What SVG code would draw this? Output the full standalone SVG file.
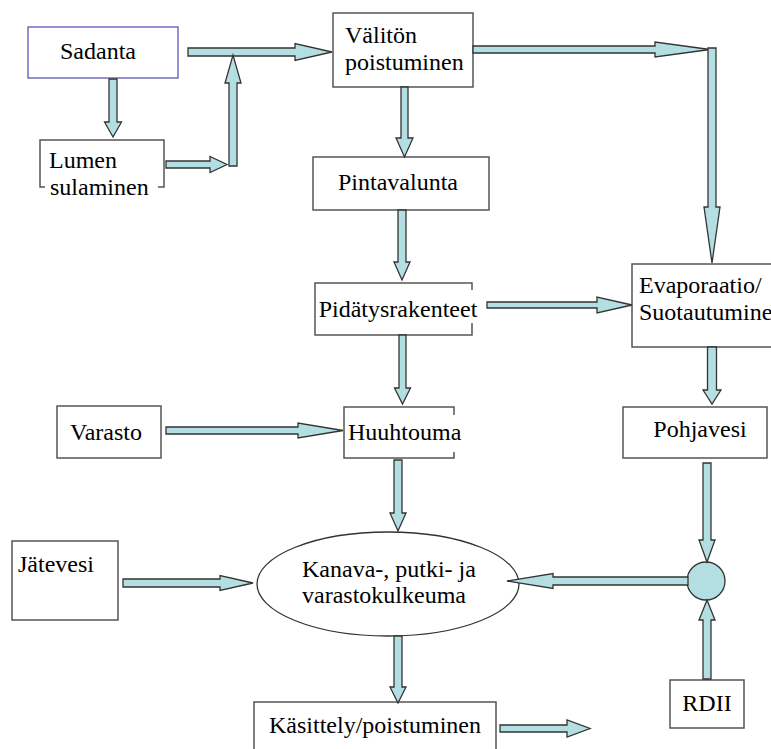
<svg xmlns="http://www.w3.org/2000/svg" width="771" height="749" viewBox="0 0 771 749">
<style>
.box{fill:#fff;stroke:#555;stroke-width:1.5}
.blue{fill:#fff;stroke:#4a4ab0;stroke-width:1.2}
text{font-family:'Liberation Serif','DejaVu Serif',serif;font-size:24px;fill:#000}
.c{text-anchor:middle}
.patch{fill:#fff;stroke:none}
.arr{fill:#b4dfe2;stroke:#333;stroke-width:1.3;stroke-linejoin:miter}
</style>
<rect width="771" height="749" fill="#fff"/>
<g id="sadanta"><rect class="blue" x="28" y="27" width="150" height="51"/><text class="c" x="98" y="59">Sadanta</text></g>
<g id="lumen"><rect class="box" x="40" y="140" width="124" height="47"/><rect class="patch" x="45" y="178" width="113" height="22"/><text x="49" y="168">Lumen</text><text x="50" y="195">sulaminen</text></g>
<g id="valiton"><rect class="box" x="333" y="13" width="140" height="74"/><text x="345" y="43">Välitön</text><text x="345" y="70">poistuminen</text></g>
<g id="pintavalunta"><rect class="box" x="313" y="157" width="176" height="53"/><text class="c" x="398" y="190">Pintavalunta</text></g>
<g id="pidatys"><rect class="box" x="315" y="283" width="157" height="52"/><rect class="patch" x="317" y="290" width="162" height="33"/><text class="c" x="398" y="317">Pidätysrakenteet</text></g>
<g id="evaporaatio"><rect class="box" x="632" y="264" width="150" height="83"/><text x="639" y="293">Evaporaatio/</text><text x="639" y="320">Suotautuminen</text></g>
<g id="varasto"><rect class="box" x="57" y="406" width="104" height="52"/><text class="c" x="106" y="440">Varasto</text></g>
<g id="huuhtouma"><rect class="box" x="344" y="407" width="110" height="51"/><rect class="patch" x="346" y="415" width="113" height="37"/><text x="348" y="440">Huuhtouma</text></g>
<g id="pohjavesi"><rect class="box" x="623" y="407" width="144" height="51"/><text class="c" x="700" y="437">Pohjavesi</text></g>
<g id="jatevesi"><rect class="box" x="12" y="541" width="106" height="79"/><text x="18" y="572">Jätevesi</text></g>
<g id="kanava"><ellipse cx="388" cy="584" rx="131" ry="52" fill="#fff" stroke="#333" stroke-width="1.3"/><text x="302" y="577">Kanava-, putki- ja</text><text x="302" y="603">varastokulkeuma</text></g>
<g id="yhtyma"><circle cx="706" cy="581" r="19" fill="#b4dfe2" stroke="#333" stroke-width="1.3"/></g>
<g id="rdii"><rect class="box" x="670" y="680" width="74" height="48"/><text class="c" x="707" y="711">RDII</text></g>
<g id="kasittely"><rect class="box" x="254" y="702" width="242" height="60"/><text class="c" x="375" y="733">Käsittely/poistuminen</text></g>
<g id="connectors">
<polygon class="arr" points="188,48 295,48 295,43.5 332,52 295,60.5 295,56 188,56"/>
<polygon class="arr" points="109,79 117,79 117,122 121.5,122 113,137 104.5,122 109,122"/>
<polygon class="arr" points="166,161 210,161 210,156.5 227,164.5 210,172.5 210,168 166,168"/>
<polygon class="arr" points="229,166 229,83 225,83 233,55 241,83 237,83 237,166"/>
<polygon class="arr" points="473,46 655,46 655,42 710,49.5 655,57 655,53 473,53"/>
<polygon class="arr" points="708,48 716,48 716,207 720,207 712,263 704,207 708,207"/>
<polygon class="arr" points="401,87 408,87 408,138 413,138 404.5,157 396,138 401,138"/>
<polygon class="arr" points="398,210 406,210 406,262 410,262 402,280 394,262 398,262"/>
<polygon class="arr" points="487,302 597,302 597,297 632,305 597,313 597,308 487,308"/>
<polygon class="arr" points="399,335 406,335 406,388 410.5,388 402.5,404 394.5,388 399,388"/>
<polygon class="arr" points="166,427 298,427 298,423 343,430.5 298,438 298,434 166,434"/>
<polygon class="arr" points="707.5,347 716.5,347 716.5,390 721,390 712,404 703,390 707.5,390"/>
<polygon class="arr" points="394,460 402,460 402,513 406,513 398,531 390,513 394,513"/>
<polygon class="arr" points="703,463 711,463 711,540 715,540 707,562 699,540 703,540"/>
<polygon class="arr" points="688,577 553,577 553,573.5 507,581 553,588.5 553,585 688,585"/>
<polygon class="arr" points="703,679 703,620 699,620 707,600 715,620 711,620 711,679"/>
<polygon class="arr" points="394,636 402,636 402,687 406,687 398,703 390,687 394,687"/>
<polygon class="arr" points="500,725 567,725 567,720 590,728.5 567,737 567,732 500,732"/>
<polygon class="arr" points="123,579 220,579 220,575.5 253,583 220,590.5 220,587 123,587"/>
</g>
</svg>
